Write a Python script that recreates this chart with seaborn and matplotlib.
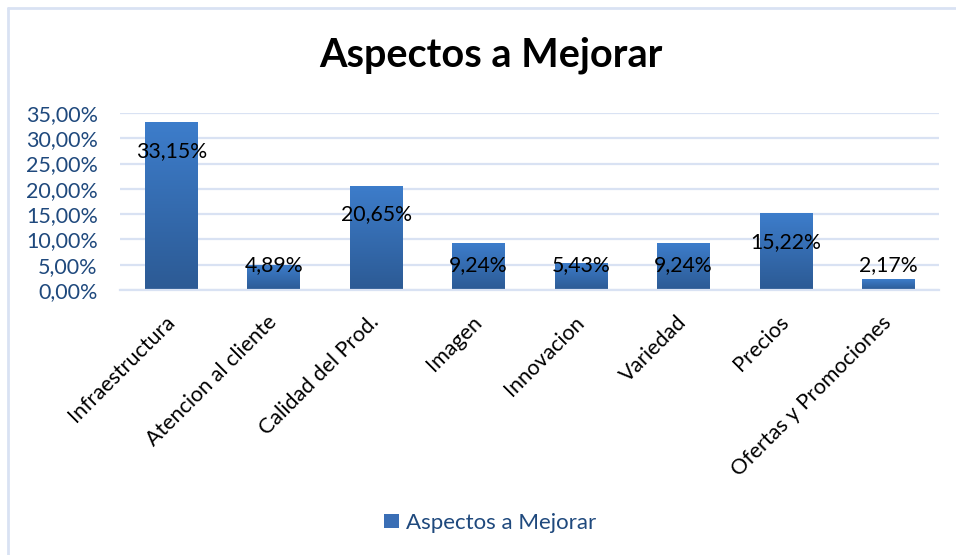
import matplotlib
matplotlib.use("Agg")
import matplotlib.pyplot as plt
import seaborn as sns
import numpy as np
import pandas as pd
from matplotlib.patches import Patch
from matplotlib.lines import Line2D

# datos
categorias = ["Infraestructura", "Atencion al cliente", "Calidad del Prod.", "Imagen",
              "Innovacion", "Variedad", "Precios", "Ofertas y Promociones"]
porcentajes = [33.15, 4.89, 20.65, 9.24, 5.43, 9.24, 15.22, 2.17]
ticks_y = [0, 5, 10, 15, 20, 25, 30, 35]
titulo = "Aspectos a Mejorar"

sns.set_theme(style="white")
plt.rcParams["font.family"] = ["Lato", "DejaVu Sans"]

azul_texto = "#1F497D"
grid_col = "#D9E2F3"

df = pd.DataFrame({"cat": categorias, "pct": porcentajes})

fig = plt.figure(figsize=(9.56, 5.55), dpi=100)
ax = fig.add_axes([0.1255, 0.4775, 0.857, 0.3189])

sns.barplot(data=df, x="cat", y="pct", ax=ax, width=0.51, color="#3A6EB5")

# degradado en las barras
grad = np.linspace(0, 1, 256).reshape(-1, 1)
cmap = matplotlib.colors.LinearSegmentedColormap.from_list("g", ["#2C5A94", "#3D7DCB"])
for p in ax.patches:
    x0, y0 = p.get_x(), p.get_y()
    w, h = p.get_width(), p.get_height()
    p.set_facecolor("none")
    p.set_edgecolor("none")
    im = ax.imshow(grad, extent=[x0, x0 + w, y0, y0 + h], origin="lower",
                   cmap=cmap, aspect="auto", zorder=2)
    im.set_clip_path(p)

ax.set_xlim(-0.5, len(categorias) - 0.5)
ax.set_ylim(0, 35)
ax.set_yticks(ticks_y)
ax.set_yticklabels([f"{t:.2f}".replace(".", ",") + "%" for t in ticks_y],
                   color=azul_texto, fontsize=15.5)
ax.set_xticks(range(len(categorias)))
ax.set_xticklabels(categorias, rotation=45, ha="right", va="center",
                   rotation_mode="anchor", fontsize=15.5, color="black")
ax.tick_params(axis="x", length=0, pad=21)
ax.tick_params(axis="y", length=0, pad=16)
ax.set_xlabel("")
ax.set_ylabel("")
ax.grid(axis="y", color=grid_col, linewidth=1.6)
ax.set_axisbelow(True)
for s in ["top", "right", "left"]:
    ax.spines[s].set_visible(False)
ax.spines["bottom"].set_color(grid_col)
ax.spines["bottom"].set_linewidth(1.6)

# etiquetas de datos
for i, v in enumerate(porcentajes):
    ax.text(i, max(v - 5.7, 4.9), f"{v:.2f}".replace(".", ",") + "%",
            ha="center", va="center", fontsize=15.3, color="black", zorder=5)

fig.text(0.513, 0.90, titulo, ha="center", va="center", fontsize=28.5,
         fontweight="bold", color="black")

# leyenda
fig.legend(handles=[Patch(facecolor="#3A6EB5", edgecolor="none", label=titulo)],
           loc="center", bbox_to_anchor=(0.513, 0.058), frameon=False,
           fontsize=16, labelcolor=azul_texto, handlelength=0.65, handleheight=0.65,
           handletextpad=0.35)

# borde del grafico
fig.add_artist(Line2D([0.0085, 0.0085], [0, 0.986], transform=fig.transFigure,
                      color=grid_col, linewidth=2))
fig.add_artist(Line2D([0.0085, 1], [0.986, 0.986], transform=fig.transFigure,
                      color=grid_col, linewidth=2))

fig.savefig("out.png", dpi=100)
